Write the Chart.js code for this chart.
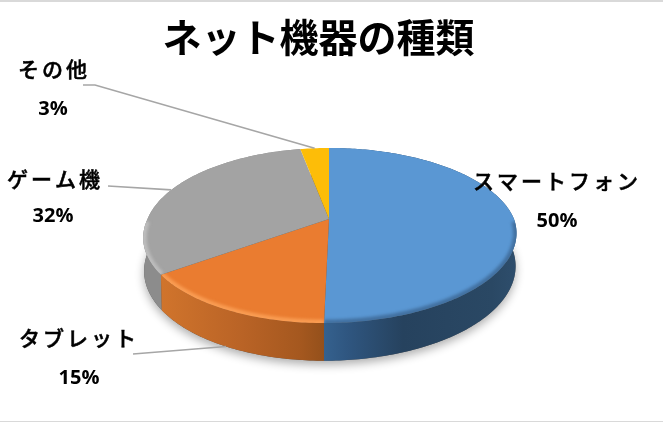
<!DOCTYPE html>
<html lang="ja"><head><meta charset="utf-8">
<style>html,body{margin:0;padding:0;background:#fff}canvas{display:block}</style>
<script src="https://cdn.jsdelivr.net/npm/chart.js@4/dist/chart.umd.js"></script>
</head><body><canvas id="c" width="663" height="422"></canvas>
<script>
const chartTitle = 'ネット機器の種類';
const categories = ['スマートフォン', 'タブレット', 'ゲーム機', 'その他'];
const shares = [50, 15, 32, 3];
const topColors = ['#5a97d3', '#ea7c30', '#a3a3a3', '#fdbd08'];
const rimColors = ['rgba(30,55,85,0.4)', '#f99c52', '#bcbcbc', null];
const sideStops = [
  [[0,'#35618e'],[0.12,'#2f5680'],[0.4,'#26425e'],[0.85,'#2a4864'],[1,'#2f4f6e']],
  [[0,'#d0742c'],[0.5,'#b96326'],[0.85,'#a5581f'],[1,'#94501b']],
  [[0,'#8c8c8c'],[1,'#8c8c8c']],
  [[0,'#c09000'],[1,'#c09000']]
];
// label text anchors (left x, first baseline, percent centre x, percent baseline)
const labelPlaces = [
  {x:473, y:189, px:557, py:227},
  {x:19,  y:346, px:79,  py:384},
  {x:7,   y:187, px:53,  py:222},
  {x:18,  y:77,  px:53,  py:115}
];
const leaderStarts = [null, [[133,354]], [[108,186]], [[83,85],[95,85]]];
const leaderDepth = [0, 1, 0, 0];

// perspective view of the pie's disc
const view = {cx:329, cy:219, aLeft:181.5, aRight:185, b:43.1, k:-0.1886, lean:5, depth:32, depthGrow:5.7};
function project(theta, low) {
  const u = Math.cos(theta), v = Math.sin(theta), w = 1 + view.k * v;
  let x = view.cx + (u < 0 ? view.aLeft : view.aRight) * u / w - view.lean * Math.max(0, v);
  let y = (view.cy + view.b * v) / w;
  if (low) { y += view.depth + view.depthGrow * v; x = view.cx + (x - view.cx) * 0.995; }
  return [x, y];
}
function traceRange(ctx, a0, a1, low, first) {
  const n = Math.max(2, Math.ceil(Math.abs(a1 - a0) * 60));
  for (let i = 0; i <= n; i++) {
    const p = project(a0 + (a1 - a0) * i / n, low);
    if (i === 0 && first) ctx.moveTo(p[0], p[1]); else ctx.lineTo(p[0], p[1]);
  }
}
Chart.ArcElement.prototype.draw = function (ctx) {
  const {startAngle, endAngle} = this.getProps(['startAngle', 'endAngle']);
  const i = this.$context ? this.$context.dataIndex : 0;
  ctx.save();
  ctx.beginPath();
  ctx.moveTo(view.cx, view.cy);
  traceRange(ctx, startAngle, endAngle, false, false);
  ctx.closePath();
  ctx.fillStyle = this.options.backgroundColor;
  ctx.fill();
  ctx.clip();
  if (rimColors[i]) {
    ctx.beginPath();
    let started = false;
    const n = 200;
    for (let j = 0; j <= n; j++) {
      const t = startAngle + (endAngle - startAngle) * j / n;
      if (Math.sin(t) < 0.02) { started = false; continue; }
      const p = project(t, false);
      if (!started) { ctx.moveTo(p[0], p[1]); started = true; } else ctx.lineTo(p[0], p[1]);
    }
    ctx.strokeStyle = rimColors[i];
    ctx.lineWidth = 7;
    ctx.filter = 'blur(1.5px)';
    ctx.stroke();
  }
  ctx.restore();
};

const disc3d = {
  id: 'disc3d',
  beforeDatasetsDraw(chart) {
    const ctx = chart.ctx, arcs = chart.getDatasetMeta(0).data;
    ctx.save();
    ctx.beginPath();
    traceRange(ctx, 0, Math.PI * 2, true, true);
    ctx.closePath();
    ctx.fillStyle = '#555';
    ctx.shadowColor = 'rgba(0,0,0,0.32)';
    ctx.shadowBlur = 10;
    ctx.shadowOffsetY = 4;
    ctx.fill();
    ctx.restore();
    [3, 2, 1, 0].forEach(i => {
      const s = arcs[i].startAngle, e = arcs[i].endAngle;
      let minX = 1e9, maxX = -1e9;
      for (let j = 0; j <= 100; j++) {
        const t = s + (e - s) * j / 100;
        if (Math.sin(t) < 0) continue;
        const x = project(t, true)[0];
        minX = Math.min(minX, x); maxX = Math.max(maxX, x);
      }
      if (minX > maxX) return;
      const g = ctx.createLinearGradient(i === 0 ? minX : maxX, 0, i === 0 ? maxX + 6 : minX, 0);
      const stops = sideStops[i];
      if (i === 0) stops.forEach(st => g.addColorStop(st[0], st[1]));
      else stops.forEach(st => g.addColorStop(1 - st[0], st[1]));
      ctx.beginPath();
      traceRange(ctx, s, e, false, true);
      traceRange(ctx, e, s, true, false);
      ctx.closePath();
      ctx.fillStyle = g;
      ctx.fill();
    });
  }
};

const pieLabels = {
  id: 'pieLabels',
  afterDraw(chart) {
    const ctx = chart.ctx, arcs = chart.getDatasetMeta(0).data;
    ctx.save();
    ctx.fillStyle = '#d9d9d9';
    ctx.fillRect(0, 0, 663, 2);
    ctx.fillRect(0, 421, 663, 1);
    ctx.strokeStyle = '#a6a6a6';
    ctx.lineWidth = 1.7;
    arcs.forEach((arc, i) => {
      if (!leaderStarts[i]) return;
      const mid = (arc.startAngle + arc.endAngle) / 2;
      const end = project(mid, !!leaderDepth[i]);
      ctx.beginPath();
      leaderStarts[i].forEach((p, j) => j ? ctx.lineTo(p[0], p[1]) : ctx.moveTo(p[0], p[1]));
      ctx.lineTo(end[0], end[1]);
      ctx.stroke();
    });
    ctx.fillStyle = '#000';
    ctx.textBaseline = 'alphabetic';
    categories.forEach((name, i) => {
      const at = labelPlaces[i];
      ctx.textAlign = 'left';
      ctx.font = '500 21px "Noto Sans CJK JP"';
      ctx.letterSpacing = '3px';
      ctx.strokeStyle = '#000';
      ctx.lineWidth = 0.5;
      ctx.fillText(name, at.x, at.y);
      ctx.strokeText(name, at.x, at.y);
      ctx.letterSpacing = '0px';
      ctx.textAlign = 'center';
      ctx.font = '700 20px "Open Sans"';
      ctx.fillText(shares[i] + '%', at.px, at.py);
    });
    ctx.restore();
  }
};

new Chart(document.getElementById('c').getContext('2d'), {
  type: 'pie',
  data: {labels: categories, datasets: [{data: shares, backgroundColor: topColors, borderWidth: 0}]},
  options: {
    responsive: false,
    animation: false,
    events: [],
    layout: {padding: {right: 26}},
    plugins: {
      legend: {display: false},
      tooltip: {enabled: false},
      title: {display: true, text: chartTitle, color: '#000', align: 'center',
        font: {family: '"Noto Sans CJK JP"', size: 39, weight: '700'},
        padding: {top: 14, bottom: 4}}
    }
  },
  plugins: [disc3d, pieLabels]
});
</script></body></html>
